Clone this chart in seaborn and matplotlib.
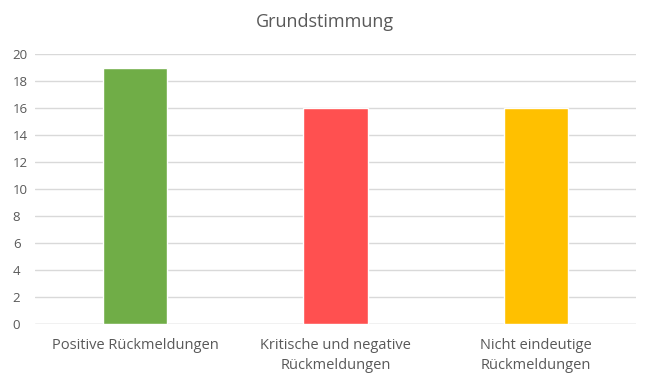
import matplotlib
matplotlib.use("Agg")
import matplotlib.pyplot as plt
import seaborn as sns
import pandas as pd

# Daten
kategorien = ["Positive Rückmeldungen", "Kritische und negative\nRückmeldungen", "Nicht eindeutige\nRückmeldungen"]
werte = [19, 16, 16]
farben = ["#70AD47", "#FF5050", "#FFC000"]

df = pd.DataFrame({"Kategorie": kategorien, "Anzahl": werte})

sns.set_theme(style="white")
plt.rcParams['font.family'] = ['Open Sans', 'DejaVu Sans']

fig = plt.figure(figsize=(6.5, 3.84), dpi=100)
ax = fig.add_axes([35 / 650, 1 - 324 / 384, 601 / 650, 270 / 384])

sns.barplot(data=df, x="Kategorie", y="Anzahl", hue="Kategorie", palette=farben,
            width=0.32, saturation=1, legend=False, ax=ax, zorder=3)

ax.set_ylim(0, 20)
ax.set_yticks(range(0, 21, 2))
ax.set_xlim(-0.5, 2.5)
ax.yaxis.grid(True, color="#D9D9D9", linewidth=1, zorder=0)
for s in ax.spines.values():
    s.set_visible(False)
ax.axhline(0, color="#D9D9D9", linewidth=1, zorder=1)
ax.set_xlabel("")
ax.set_ylabel("")
ax.tick_params(axis="y", length=0, pad=16, labelsize=9.5, labelcolor="#595959")
ax.tick_params(axis="x", length=0, pad=10, labelsize=10.5, labelcolor="#595959")
for lbl in ax.get_yticklabels():
    lbl.set_horizontalalignment("left")
for lbl in ax.get_xticklabels():
    lbl.set_linespacing(1.45)
fig.suptitle("Grundstimmung", x=0.5, y=1 - 22 / 384, va="center", fontsize=13, color="#595959")

fig.savefig("out.png", dpi=100)
